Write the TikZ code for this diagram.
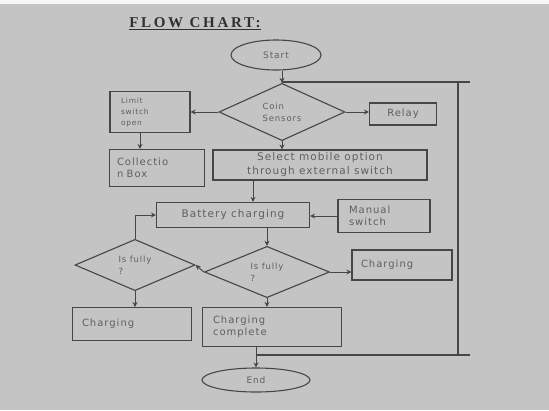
\documentclass[tikz,border=0pt]{standalone}
\usepackage{fontspec}
\newfontfamily\boxfont[LetterSpace=10]{DejaVu Sans}
\newfontfamily\titlefont[LetterSpace=18]{Liberation Serif}
\usepackage{tikz}
\usetikzlibrary{arrows.meta, shapes.geometric, positioning}
\definecolor{paper}{RGB}{196,196,196}
\definecolor{ink}{RGB}{70,70,70}
\definecolor{txt}{RGB}{95,95,95}

\begin{document}
\begin{tikzpicture}[x=1pt, y=-1pt,
    box/.style={draw=ink, line width=1.1pt, rectangle, inner sep=2pt,
        font=\boxfont\fontsize{10}{12}\selectfont, text=txt, align=left},
    term/.style={draw=ink, line width=1.1pt, ellipse, inner sep=0pt,
        font=\boxfont\fontsize{9}{12}\selectfont, text=txt},
    test/.style={draw=ink, line width=1.1pt, diamond, inner sep=0pt,
        font=\boxfont\fontsize{8.5}{12}\selectfont, text=txt, align=left},
    flow/.style={draw=ink, line width=1pt, -{Stealth[length=5pt,width=5pt]}},
    wire/.style={draw=ink, line width=1.1pt}]
    % Paper background
    \fill[paper] (0,0) rectangle (549,410);
    \fill[white!85!paper] (0,0) rectangle (549,4);

    % Title
    \node[font=\titlefont\bfseries\fontsize{15}{17}\selectfont, text=ink!70!black] (title)
        at (195,24) {\underline{FLOW CHART:}};

    % Nodes
    \node[term, minimum width=90pt, minimum height=30pt] (start) at (276,55) {Start};
    \node[test, minimum width=126pt, minimum height=46pt] (sens) at (282,112)
        {Coin\\Sensors};
    \node[box, minimum width=80pt, minimum height=41pt, text width=58pt,
        font=\boxfont\fontsize{7.5}{11}\selectfont] (lim) at (150,112)
        {Limit\\switch\\open};
    \node[box, minimum width=95pt, minimum height=37pt, text width=80pt] (coll) at (157,168)
        {Collectio\\n Box};
    \node[box, minimum width=67pt, minimum height=22pt, align=center] (relay) at (403,114)
        {Relay};
    \node[box, minimum width=214pt, minimum height=30pt, align=center,
        font=\boxfont\fontsize{10.5}{14}\selectfont] (sel) at (320,165)
        {Select mobile option\\through external switch};
    \node[box, minimum width=153pt, minimum height=25pt, align=center,
        font=\boxfont\fontsize{10.5}{14}\selectfont] (batt) at (233,215)
        {Battery charging};
    \node[box, minimum width=92pt, minimum height=33pt, text width=70pt] (man) at (384,216)
        {Manual\\switch};
    \node[test, minimum width=120pt, minimum height=50pt] (fullA) at (135,265)
        {Is fully\\?};
    \node[test, minimum width=125pt, minimum height=50pt] (fullB) at (267,272)
        {Is fully\\?};
    \node[box, minimum width=119pt, minimum height=33pt, text width=100pt,
        anchor=north] (chgA) at (132,307) {Charging\\[4pt]};
    \node[box, minimum width=100pt, minimum height=30pt, text width=82pt] (chgB) at (402,265)
        {Charging\\[4pt]};
    \node[box, minimum width=139pt, minimum height=39pt, text width=118pt] (done) at (272,327)
        {Charging\\complete};
    \node[term, minimum width=108pt, minimum height=24pt] (end) at (256,380) {End};

    % Connectors
    \draw[flow] (start.south -| sens.north) -- (sens.north);
    \draw[flow] (sens.west) -- (lim.east |- sens.west);
    \draw[flow] (sens.east) -- (relay.west |- sens.east);
    \draw[flow] (lim.south -| 140,0) -- (coll.north -| 140,0);
    \draw[flow] (sens.south) -- (sel.north -| sens.south);
    \draw[flow] (sel.south -| 253,0) -- (batt.north -| 253,0);
    \draw[flow] (man.west) -- (batt.east |- man.west);
    \draw[flow] (batt.south -| fullB.north) -- (fullB.north);
    \draw[flow] (fullB.west) -- (fullA.east);
    \draw[flow] (fullA.north) |- (batt.west);
    \draw[flow] (fullA.south) -- (chgA.north -| fullA.south);
    \draw[flow] (fullB.east) -- (chgB.west |- fullB.east);
    \draw[flow] (fullB.south) -- (done.north -| fullB.south);
    \draw[flow] (done.south -| end.north) -- (end.north);

    % Return loop on the right
    \coordinate (lp) at (256,355);
    \coordinate (lpR) at (470,355);
    \coordinate (lpB) at (458,355);
    \coordinate (lpT) at (458,82);
    \coordinate (lpTR) at (470,82);
    \coordinate (jn) at (282,82);
    \draw[wire] (lp) -- (lpR);
    \draw[wire] (lpB) -- (lpT);
    \draw[wire] (lpTR) -- (jn);
\end{tikzpicture}
\end{document}
